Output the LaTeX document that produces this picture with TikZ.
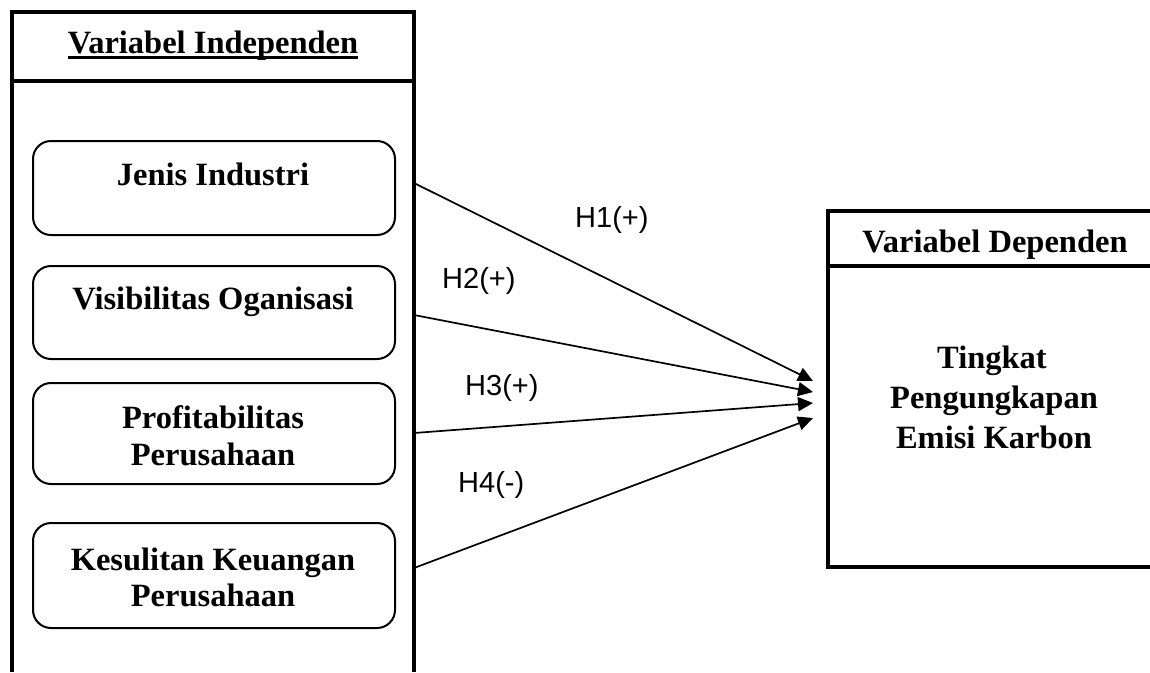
\documentclass[tikz,border=0pt]{standalone}
\usepackage{fontspec}
\setmainfont{Liberation Serif}
\newfontfamily\hypfont{Liberation Sans}
\usetikzlibrary{arrows.meta}
\begin{document}
\begin{tikzpicture}[x=1pt,y=-1pt,
  frame/.style={line width=3.2pt},
  vbox/.style={draw, line width=2pt, rounded corners=18pt, minimum width=362pt, inner sep=0pt},
  txt/.style={font=\fontsize{32.5}{38}\selectfont\bfseries, inner sep=0pt, anchor=base},
  hyp/.style={font=\hypfont\fontsize{29}{34}\selectfont, inner sep=0pt, anchor=base west},
  arr/.style={line width=1.7pt, -{Triangle[length=15pt,width=14pt]}}]
\useasboundingbox (0,0) rectangle (1150,672);
\fill[white] (0,0) rectangle (1150,672);

% left frame (independent variables)
\draw[frame] (12,672) -- (12,12) -- (414,12) -- (414,672);
\draw[frame] (12,81) -- (414,81);
\node[txt] (hin) at (213,53) {Variabel Independen};
\draw[line width=3pt] ([yshift=-4pt]hin.base west) -- ([yshift=-4pt]hin.base east);

% rounded boxes
\node[vbox, minimum height=94pt]  (b1) at (214,188) {};
\node[vbox, minimum height=93pt]  (b2) at (214,312.5) {};
\node[vbox, minimum height=101pt] (b3) at (214,433.5) {};
\node[vbox, minimum height=105pt] (b4) at (214,575.5) {};

\node[txt] (t1)  at (213,185) {Jenis Industri};
\node[txt] (t2)  at (213,309) {Visibilitas Oganisasi};
\node[txt] (t3a) at (213,428) {Profitabilitas};
\node[txt] (t3b) at (213,465) {Perusahaan};
\node[txt] (t4a) at (213,570) {Kesulitan Keuangan};
\node[txt] (t4b) at (213,606) {Perusahaan};

% right frame (dependent variable)
\draw[frame] (1150,211) -- (828,211) -- (828,567) -- (1150,567);
\draw[frame] (828,266) -- (1150,266);
\node[txt] (hdep) at (995,252) {Variabel Dependen};
\node[txt] (d1) at (992,368) {Tingkat};
\node[txt] (d2) at (994,408) {Pengungkapan};
\node[txt] (d3) at (994,448) {Emisi Karbon};

% connectors
\coordinate (s1) at (414,183);
\coordinate (s2) at (414,315);
\coordinate (s3) at (414,433);
\coordinate (s4) at (414,568);
\coordinate (e1) at (813,381);
\coordinate (e2) at (813,392);
\coordinate (e3) at (813,403);
\coordinate (e4) at (813,418);
\draw[arr] (s1) -- (e1);
\draw[arr] (s2) -- (e2);
\draw[arr] (s3) -- (e3);
\draw[arr] (s4) -- (e4);

% hypothesis labels
\node[hyp] (h1) at (575,227) {H1(+)};
\node[hyp] (h2) at (442,288) {H2(+)};
\node[hyp] (h3) at (465,395) {H3(+)};
\node[hyp] (h4) at (458,492) {H4(-)};
\end{tikzpicture}
\end{document}
